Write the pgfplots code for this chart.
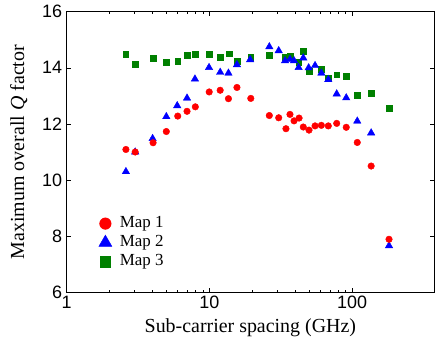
\documentclass[border=0pt]{standalone}
\usepackage{fontspec}
\setmainfont{Liberation Serif}
\newfontfamily\arial{Liberation Sans}
\usepackage{pgfplots}
\pgfplotsset{compat=1.18}
\definecolor{mgreen}{RGB}{0,128,0}
\pgfplotsset{
  legsq/.style={legend image code/.code={\draw[##1, mark size=5.3bp] plot coordinates {(0,0)};}},
  legtri/.style={legend image code/.code={\draw[##1, mark size=7.5bp] plot coordinates {(0,0)};}},
  legcirc/.style={legend image code/.code={\draw[##1, mark size=5.8bp] plot coordinates {(0,0)};}},
}

\pgfplotstableread{
x y
2.6 11.09
3.02 11.0
4.03 11.33
4.99 11.73
6.0 12.28
6.97 12.45
7.97 12.61
9.97 13.14
11.9 13.2
13.6 12.9
15.6 13.3
19.5 12.91
26.3 12.30
30.6 12.22
34.4 11.83
36.7 12.34
39.2 12.11
42.5 12.21
45.5 11.89
49.9 11.78
55 11.93
60.9 11.95
68.1 11.93
78 12.02
91 11.88
108.7 11.34
136 10.5
181.5 7.89
}\mapone

\pgfplotstableread{
x y
2.6 10.30
3.02 11.0
4.0 11.48
4.99 12.26
5.95 12.65
6.97 12.92
7.92 13.60
9.94 14.01
11.9 13.84
13.6 13.81
15.6 14.11
19.3 14.29
26.3 14.75
30.6 14.61
33.9 14.25
36.7 14.30
39.2 14.25
42.2 14.01
45.5 14.35
49.6 14.00
55 14.08
60.9 13.81
68.1 13.58
78 13.07
91 12.93
108.7 12.10
136 11.68
181.5 7.66
}\maptwo

\pgfplotstableread{
x y
2.59 14.48
3.01 14.12
4.03 14.34
4.99 14.21
6.0 14.23
6.97 14.46
7.97 14.48
9.94 14.48
11.9 14.37
13.7 14.5
15.6 14.24
19.5 14.37
26.3 14.45
33.9 14.37
36.7 14.42
42.2 14.21
45.5 14.59
49.9 13.88
60.9 13.95
68.1 13.62
78 13.76
91 13.71
108.7 13.02
136 13.09
181.5 12.57
}\mapthree

\begin{document}
\begin{tikzpicture}
\begin{axis}[
  at={(0,0)}, anchor=south west,
  scale only axis, width=367.3bp, height=280.6bp,
  xmode=log, xmin=1, xmax=375, ymin=6, ymax=16,
  xtick={1,10,100}, xticklabels={1,10,100},
  ytick={6,8,10,12,14,16},
  tick align=inside,
  major tick length=4bp, minor tick length=2.5bp,
  axis line style={line width=0.8bp},
  every tick/.style={black, line width=0.6bp},
  /pgf/number format/assume math mode=true,
  tick label style={font=\arial\fontsize{18}{18}\selectfont},
  xticklabel style={inner sep=3.5bp},
  yticklabel style={inner sep=4.5bp},
  xlabel={Sub-carrier spacing (GHz)},
  ylabel={Maximum overall \textit{Q} factor},
  label style={font=\fontsize{20}{24}\selectfont},
  xlabel style={at={(axis description cs:0.5,-0.145)}, anchor=base},
  ylabel style={at={(axis description cs:-0.116,0.5)}, anchor=base},
  reverse legend,
  legend cell align=left,
  legend style={draw=none, fill=none, inner sep=0pt, at={(axis description cs:0,0)}, anchor=south west, xshift=32bp, yshift=21bp,
    font=\fontsize{17}{17}\selectfont, column sep=6.5bp,
    nodes={inner sep=1.5bp, text height=12bp, text depth=4bp}},
]
\addplot[only marks, mark=square*, mark size=2.85bp, color=mgreen, legsq] table[x=x,y=y] {\mapthree};
\addlegendentry{Map 3}
\addplot[only marks, mark=triangle*, mark size=4.3bp, color=blue, legtri] table[x=x,y=y] {\maptwo};
\addlegendentry{Map 2}
\addplot[only marks, mark=*, mark size=3.3bp, color=red, legcirc] table[x=x,y=y] {\mapone};
\addlegendentry{Map 1}
\end{axis}
\pgfresetboundingbox
\useasboundingbox (-66.7bp,-46.7bp) rectangle (368.3bp,292.3bp);
\end{tikzpicture}
\end{document}
